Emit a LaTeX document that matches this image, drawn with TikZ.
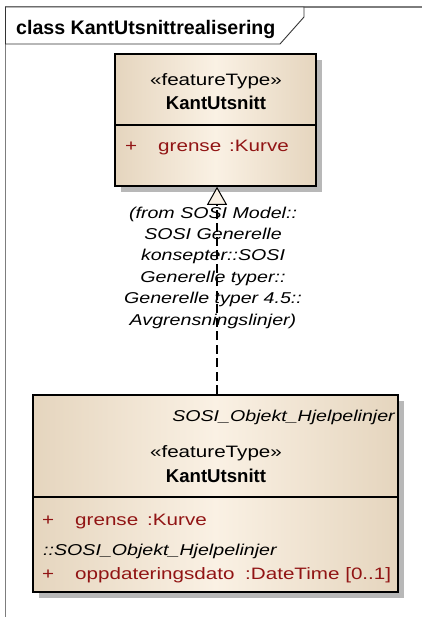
\documentclass[tikz,border=0pt]{standalone}
\usepackage{fontspec}
\setmainfont{Liberation Sans}[FakeStretch=1.25]
\newfontfamily\boldfam{Liberation Sans}
\usetikzlibrary{arrows.meta,shadows}
\definecolor{boxedge}{RGB}{229,213,190}
\definecolor{boxmid}{RGB}{250,241,228}
\definecolor{attrred}{RGB}{145,20,20}
\definecolor{framegray}{RGB}{125,125,125}
\definecolor{trifill}{RGB}{250,242,230}
\newcommand\regtxt{\fontsize{16.5}{21.4}\selectfont}
\newcommand\ittxt{\fontsize{15.7}{21.4}\selectfont\itshape}
\newcommand\nametxt{\boldfam\bfseries\fontsize{18.6}{22}\selectfont}
\newcommand\headtxt{\boldfam\bfseries\fontsize{19.6}{22}\selectfont}
\tikzset{
  classbox/.style={draw=black, line width=1.6pt, inner sep=0pt,
    left color=boxedge, right color=boxedge, middle color=boxmid,
    drop shadow={shadow xshift=6pt, shadow yshift=-6pt, fill=black!28, opacity=1}},
  txt/.style={inner sep=0pt, font=\regtxt},
  ittext/.style={inner sep=0pt, font=\ittxt},
  attr/.style={txt, text=attrred, anchor=base west},
  divider/.style={line width=1.3pt, draw=black},
  realize/.style={line width=1.1pt, dash pattern=on 9pt off 4.5pt,
    -{Triangle[length=18pt,width=20pt,fill=trifill,line width=1pt]}},
}
\begin{document}
\begin{tikzpicture}[x=1pt,y=-1pt]
\useasboundingbox (0,0) rectangle (422,617);
% frame
\draw[framegray, line width=1.6pt] (5.5,617) -- (5.5,7) -- (422,7);
\draw[black!80, line width=0.9pt, fill=white] (5.5,7) -- (304,7) -- (304,17) -- (280,44) -- (5.5,44) -- cycle;
\node[inner sep=0pt, anchor=base west, font=\headtxt] (title) at (16,35) {class KantUtsnittrealisering};
% top class
\node[classbox, minimum width=201pt, minimum height=132pt] (top) at (215.5,120) {};
\draw[divider] (top.west |- 0,125) -- (top.east |- 0,125);
\node[txt, anchor=base] (topst) at (216,86) {«featureType»};
\node[inner sep=0pt, anchor=base, font=\nametxt] (topname) at (216,110) {KantUtsnitt};
\node[attr] (topplus) at (125,152) {+};
\node[attr] (topattr) at (158,152) {grense};
\node[attr] (toptype) at (229,152) {:Kurve};
% bottom class
\node[classbox, minimum width=365pt, minimum height=197pt] (bot) at (215.5,493.5) {};
\draw[divider] (bot.west |- 0,497) -- (bot.east |- 0,497);
\node[ittext, anchor=base east] (botpkg) at (395,421.5) {SOSI\_Objekt\_Hjelpelinjer};
\node[txt, anchor=base] (botst) at (216,457) {«featureType»};
\node[inner sep=0pt, anchor=base, font=\nametxt] (botname) at (216,482) {KantUtsnitt};
\node[attr] (botplus1) at (42,525) {+};
\node[attr] (botattr1) at (75,525) {grense};
\node[attr] (bottype1) at (147,525) {:Kurve};
\node[ittext, anchor=base west] (botinh) at (43,555) {::SOSI\_Objekt\_Hjelpelinjer};
\node[attr] (botplus2) at (42,579) {+};
\node[attr] (botattr2) at (75,579) {oppdateringsdato};
\node[attr] (bottype2) at (245,579) {:DateTime [0..1]};
% realization connector
\draw[realize] ([xshift=1.5pt]bot.north) -- ([xshift=1.5pt]top.south);
\node[ittext, align=center, anchor=base] (from) at (213,325)
  {(from SOSI Model::\\SOSI Generelle\\konsepter::SOSI\\Generelle typer::\\Generelle typer 4.5::\\Avgrensningslinjer)};
\end{tikzpicture}
\end{document}
